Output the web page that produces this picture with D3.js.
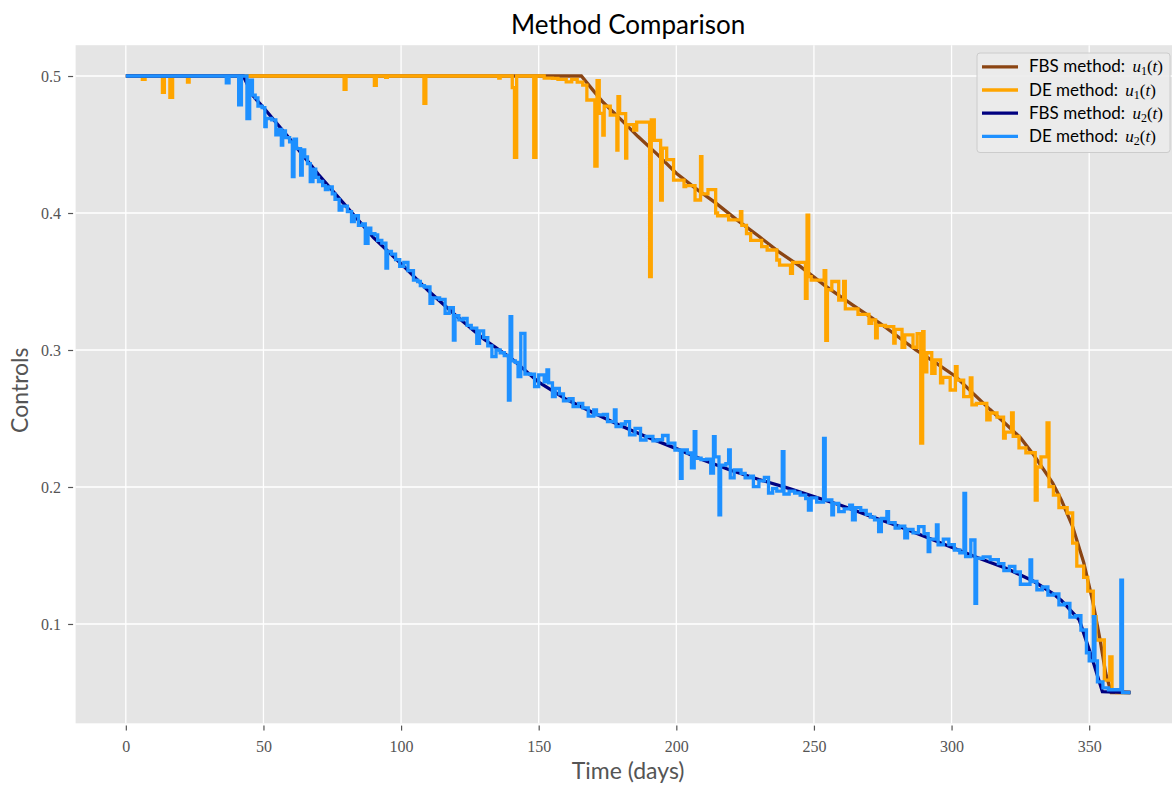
<!DOCTYPE html>
<html>
<head>
<meta charset="utf-8">
<script src="https://cdn.jsdelivr.net/npm/d3@7"></script>
<style>
  html, body { margin: 0; padding: 0; background: #ffffff; }
  svg { display: block; }
</style>
</head>
<body>
<svg id="chart" width="1172" height="786"></svg>
<script>
// Optimal controls u1(t), u2(t) over one year: forward-backward sweep (FBS)
// versus differential evolution (DE). Values are [day, control].

const fbsU1 = [
  [0, 0.5], [165.5, 0.5], [170, 0.489], [173.3, 0.481], [180, 0.468], [186, 0.456],
  [193, 0.443], [200, 0.429], [207, 0.418], [214.5, 0.407], [222, 0.395], [230, 0.383],
  [237, 0.372], [245, 0.361], [254, 0.347], [264, 0.333], [274, 0.3195], [287, 0.300],
  [294, 0.291], [301.6, 0.2805], [308, 0.268], [314, 0.2565], [320, 0.2455], [325, 0.236],
  [330, 0.223], [336.7, 0.203], [340, 0.19], [344, 0.171], [348, 0.145], [351.2, 0.1175],
  [354, 0.088], [356, 0.064], [358, 0.05], [365, 0.05]
];

const fbsU2 = [
  [0, 0.5], [42.7, 0.5], [46, 0.486], [50, 0.477], [60, 0.453], [70, 0.428], [80, 0.405],
  [90, 0.382], [100, 0.363], [110, 0.343], [120, 0.325], [130, 0.308], [140, 0.294],
  [150, 0.2765], [160, 0.264], [170, 0.254], [180, 0.2445], [190, 0.236], [200, 0.228],
  [210, 0.2195], [220, 0.212], [230, 0.2055], [240, 0.1995], [250, 0.193], [260, 0.1865],
  [270, 0.179], [280, 0.172], [290, 0.164], [300, 0.156], [310, 0.148], [320, 0.1405],
  [330, 0.131], [336.7, 0.1224], [340, 0.117], [346.4, 0.103], [351.2, 0.074],
  [354.8, 0.0506], [365, 0.05]
];

// DE controls are piecewise constant: each pair holds from its day to the next.
const deU1 = [
  [0, 0.5], [6, 0.4976], [7, 0.5], [13.3, 0.488], [14, 0.5], [16, 0.4845], [17, 0.5],
  [22.4, 0.4956], [23, 0.5], [79.3, 0.4903], [80, 0.5], [90.3, 0.4932], [91, 0.5],
  [94.4, 0.499], [95, 0.5], [108.3, 0.480], [109, 0.5], [135.5, 0.4985], [136, 0.5],
  [140.4, 0.4915], [141.2, 0.4407], [142, 0.5], [148.2, 0.4407], [149, 0.5],
  [152, 0.4985], [155, 0.4983], [157, 0.4975], [160, 0.4958], [162, 0.4975], [164, 0.4955],
  [166, 0.4934], [167.5, 0.4825], [170.4, 0.4343], [171.2, 0.4967], [172, 0.4728],
  [173.3, 0.4569], [173.8, 0.478], [176, 0.4715], [178.4, 0.446], [178.8, 0.4849],
  [179.4, 0.4725], [181.6, 0.440], [182, 0.4645], [184.5, 0.4606], [185.6, 0.4664],
  [190.3, 0.3535], [190.9, 0.4679], [192, 0.453], [194.3, 0.4095], [194.9, 0.4474],
  [196.5, 0.439], [199, 0.424], [202.8, 0.4192], [203.4, 0.420], [206.8, 0.4095],
  [208.8, 0.4411], [209.3, 0.414], [211.5, 0.417], [214.3, 0.400], [215, 0.398],
  [219, 0.395], [223.3, 0.401], [223.8, 0.391], [225.5, 0.385], [227, 0.380], [230, 0.380],
  [231, 0.3754], [233, 0.373], [236.5, 0.3657], [237.5, 0.362], [241.5, 0.356],
  [242.2, 0.364], [246.9, 0.3377], [247.5, 0.3985], [248.1, 0.3535], [249, 0.351],
  [253.7, 0.358], [254.3, 0.307], [254.9, 0.344], [256.5, 0.350], [259, 0.3365],
  [260.8, 0.350], [261.4, 0.330], [264, 0.330], [266, 0.326], [270, 0.3195], [271, 0.322],
  [272.4, 0.3088], [273, 0.318], [276, 0.317], [279, 0.305], [279.5, 0.315], [282, 0.302],
  [283, 0.311], [286, 0.302], [287.5, 0.312], [288.8, 0.232], [289.5, 0.3134], [290, 0.284],
  [291, 0.298], [292.8, 0.283], [294, 0.2927], [296, 0.276], [296.8, 0.280], [299.5, 0.2708],
  [301.4, 0.2878], [302, 0.278], [304.4, 0.266], [306.8, 0.2796], [307.4, 0.260],
  [309, 0.261], [312.8, 0.249], [314, 0.254], [316.5, 0.251], [318.9, 0.2357], [319.5, 0.240],
  [321.8, 0.254], [322.4, 0.237], [324.5, 0.2285], [327, 0.225], [330.4, 0.1905],
  [331.1, 0.2146], [332.5, 0.222], [334.7, 0.2467], [335.4, 0.2002], [337, 0.194],
  [339, 0.185], [342, 0.181], [344, 0.159], [345.5, 0.1423], [348, 0.134], [349.5, 0.124],
  [351.5, 0.1053], [352.5, 0.0883], [355.5, 0.059], [357.5, 0.076], [358.3, 0.052],
  [360, 0.05], [365, 0.05]
];

const deU2 = [
  [0, 0.5], [36.5, 0.495], [37.5, 0.5], [41, 0.479], [42, 0.5], [44, 0.469], [45, 0.497],
  [46, 0.486], [47, 0.484], [48, 0.478], [49.5, 0.477], [50.5, 0.463], [51, 0.469],
  [53, 0.468], [54.5, 0.457], [55.5, 0.461], [56.5, 0.4496], [57, 0.460], [58, 0.455],
  [59.5, 0.452], [60.5, 0.4265], [61.1, 0.454], [62, 0.447], [63.5, 0.4277], [64.1, 0.446],
  [65, 0.441], [66, 0.436], [67, 0.4229], [68, 0.432], [69, 0.426], [70, 0.423],
  [71.5, 0.420], [72.5, 0.417], [73.5, 0.419], [75, 0.414], [76, 0.410], [77.5, 0.4022],
  [78.5, 0.405], [80.5, 0.401], [82, 0.3937], [83, 0.398], [84.5, 0.391], [86, 0.392],
  [87, 0.3779], [88, 0.389], [89, 0.385], [90.5, 0.384], [91.5, 0.380], [93, 0.378],
  [94.5, 0.3598], [95.1, 0.372], [96.5, 0.370], [98, 0.366], [99.5, 0.361], [101, 0.364],
  [102.5, 0.358], [104.5, 0.351], [106, 0.350], [107, 0.347], [108.5, 0.346], [110.5, 0.334],
  [111.5, 0.338], [114, 0.337], [116, 0.3268], [117.5, 0.331], [119, 0.3073], [119.6, 0.325],
  [121, 0.322], [122.5, 0.323], [124, 0.318], [125.5, 0.316], [127.5, 0.3049], [128.5, 0.314],
  [130, 0.309], [131.5, 0.303], [133, 0.2951], [134.5, 0.300], [136, 0.298], [137.5, 0.296],
  [139, 0.2635], [139.6, 0.3243], [140.2, 0.292], [141.5, 0.291], [142.5, 0.2805],
  [143.5, 0.3122], [145, 0.2825], [147, 0.2823], [148.5, 0.2732], [150, 0.2818],
  [152, 0.2767], [153, 0.2854], [153.6, 0.276], [155, 0.2659], [156, 0.272], [157.5, 0.268],
  [159, 0.2628], [161, 0.2645], [162.5, 0.2586], [164.5, 0.261], [166, 0.2577], [168, 0.2518],
  [170, 0.2562], [171, 0.2526], [173.5, 0.253], [175, 0.2477], [177.5, 0.2562], [178.1, 0.244],
  [180, 0.246], [181.5, 0.2477], [183, 0.238], [185, 0.2428], [187, 0.2343], [189, 0.237],
  [191.5, 0.2336], [193, 0.2345], [195, 0.2376], [197, 0.232], [199.5, 0.227], [201.5, 0.2063],
  [202.1, 0.227], [204, 0.2248], [205.5, 0.2139], [206.5, 0.2404], [207.1, 0.221], [209, 0.220],
  [211, 0.2204], [212.5, 0.2102], [213.5, 0.2367], [214.1, 0.222], [215.5, 0.1796], [216.1, 0.216],
  [218, 0.217], [219, 0.227], [219.6, 0.2066], [221, 0.2124], [223.5, 0.210], [225, 0.2066],
  [227, 0.208], [228, 0.2002], [230, 0.2045], [232, 0.207], [233.5, 0.1956], [235, 0.199],
  [236.5, 0.197], [238.5, 0.2258], [239.1, 0.1949], [241, 0.197], [243, 0.1956], [245, 0.194],
  [247, 0.1915], [248, 0.1832], [249, 0.192], [251, 0.189], [253.5, 0.2355], [254.1, 0.1905],
  [256.5, 0.1796], [257.1, 0.188], [259, 0.182], [261, 0.184], [263, 0.1867], [264, 0.176],
  [265, 0.185], [267, 0.183], [269, 0.180], [270.5, 0.178], [272, 0.176], [273.5, 0.1674],
  [274.5, 0.177], [276.5, 0.182], [277.1, 0.174], [279.5, 0.170], [281, 0.1715], [283, 0.1628],
  [284, 0.169], [286, 0.1665], [288, 0.171], [290, 0.166], [291.5, 0.1528], [292.1, 0.162],
  [294.5, 0.1723], [295.1, 0.1577], [297, 0.162], [299, 0.158], [301, 0.154], [303, 0.152],
  [304.5, 0.1954], [305.1, 0.1491], [307, 0.1613], [308.5, 0.1151], [309.1, 0.148],
  [311.5, 0.149], [314, 0.147], [317, 0.144], [319, 0.139], [321, 0.142], [323, 0.138],
  [325, 0.129], [328.5, 0.1467], [329.1, 0.131], [331, 0.125], [333, 0.127], [335, 0.121],
  [337, 0.122], [339, 0.114], [341, 0.115], [343, 0.105], [345, 0.106], [347, 0.0956],
  [349, 0.079], [350, 0.073], [351.5, 0.1053], [352.1, 0.073], [353, 0.0577], [355, 0.0533],
  [357, 0.052], [361.5, 0.132], [362.1, 0.05], [365, 0.05]
];

const xTickValues = [0, 50, 100, 150, 200, 250, 300, 350];
const yTickValues = [0.1, 0.2, 0.3, 0.4, 0.5];

const seriesInfo = [
  { data: fbsU1, method: "FBS", sub: "1", color: "#8B4513", width: 3.3, step: false },
  { data: deU1,  method: "DE",  sub: "1", color: "#FFA500", width: 3.3, step: true },
  { data: fbsU2, method: "FBS", sub: "2", color: "#000080", width: 3.3, step: false },
  { data: deU2,  method: "DE",  sub: "2", color: "#1E90FF", width: 3.3, step: true }
];

const W = 1172, H = 786;
const plot = { left: 75.6, right: 1180.7, top: 45.2, bottom: 723.3 };

const svg = d3.select("#chart");
svg.append("rect").attr("width", W).attr("height", H).attr("fill", "#ffffff");

// matplotlib-style 5% margins around the data range
const x = d3.scaleLinear().domain([-18.25, 383.25]).range([plot.left, plot.right]);
const y = d3.scaleLinear().domain([0.0275, 0.5225]).range([plot.bottom, plot.top]);

svg.append("defs").append("clipPath").attr("id", "plot-clip")
  .append("rect")
  .attr("x", plot.left).attr("y", plot.top)
  .attr("width", plot.right - plot.left).attr("height", plot.bottom - plot.top);

svg.append("rect")
  .attr("x", plot.left).attr("y", plot.top)
  .attr("width", plot.right - plot.left).attr("height", plot.bottom - plot.top)
  .attr("fill", "#E5E5E5");

// grid
const grid = svg.append("g").attr("stroke", "#ffffff").attr("stroke-width", 1.3);
grid.selectAll("line.gx").data(xTickValues).join("line")
  .attr("x1", d => x(d)).attr("x2", d => x(d))
  .attr("y1", plot.top).attr("y2", plot.bottom);
grid.selectAll("line.gy").data(yTickValues).join("line")
  .attr("x1", plot.left).attr("x2", plot.right)
  .attr("y1", d => y(d)).attr("y2", d => y(d));

// axes
const tickFont = "'Liberation Serif', 'Times New Roman', serif";
const xAxis = d3.axisBottom(x).tickValues(xTickValues).tickSize(5).tickPadding(10)
  .tickFormat(d3.format("d"));
const yAxis = d3.axisLeft(y).tickValues(yTickValues).tickSize(5).tickPadding(7)
  .tickFormat(d3.format(".1f"));

const gx = svg.append("g").attr("transform", `translate(0,${plot.bottom + 2.3})`).call(xAxis);
const gy = svg.append("g").attr("transform", `translate(${plot.left - 2.5},0)`).call(yAxis);
[gx, gy].forEach(g => {
  g.select(".domain").remove();
  g.selectAll(".tick line").attr("stroke", "#555555").attr("stroke-width", 1.2);
  g.selectAll(".tick text")
    .attr("fill", "#555555")
    .style("font-family", tickFont)
    .style("font-size", "16px");
});

// data lines
const lines = svg.append("g").attr("clip-path", "url(#plot-clip)");
seriesInfo.forEach(s => {
  const gen = d3.line()
    .x(d => x(d[0]))
    .y(d => y(d[1]))
    .curve(s.step ? d3.curveStepAfter : d3.curveLinear);
  lines.append("path")
    .datum(s.data)
    .attr("fill", "none")
    .attr("stroke", s.color)
    .attr("stroke-width", s.width)
    .attr("stroke-linejoin", "miter")
    .attr("stroke-linecap", "butt")
    .attr("d", gen);
});

// titles
const sansFont = "Lato, 'Open Sans', sans-serif";
svg.append("text")
  .attr("x", (plot.left + plot.right) / 2).attr("y", 34)
  .attr("text-anchor", "middle")
  .style("font-family", sansFont).style("font-size", "26px").attr("fill", "#000000")
  .text("Method Comparison");

svg.append("text")
  .attr("x", (plot.left + plot.right) / 2).attr("y", 779)
  .attr("text-anchor", "middle")
  .style("font-family", sansFont).style("font-size", "23px").attr("fill", "#555555")
  .text("Time (days)");

svg.append("text")
  .attr("transform", `translate(28,${(plot.top + plot.bottom) / 2 + 6}) rotate(-90)`)
  .attr("text-anchor", "middle")
  .style("font-family", sansFont).style("font-size", "23px").attr("fill", "#555555")
  .text("Controls");

// legend
const legend = svg.append("g");
legend.append("rect")
  .attr("x", 977).attr("y", 53).attr("width", 193).attr("height", 99.5)
  .attr("rx", 3).attr("ry", 3)
  .attr("fill", "#EBEBEB").attr("fill-opacity", 0.9)
  .attr("stroke", "#CCCCCC").attr("stroke-width", 1);

seriesInfo.forEach((s, i) => {
  const cy = 66.8 + i * 23.2;
  legend.append("line")
    .attr("x1", 982).attr("x2", 1018).attr("y1", cy).attr("y2", cy)
    .attr("stroke", s.color).attr("stroke-width", s.width);
  const t = legend.append("text")
    .attr("x", 1029).attr("y", cy + 5.5)
    .attr("fill", "#000000")
    .style("font-family", sansFont).style("font-size", "17px");
  t.append("tspan").text(`${s.method} method: `);
  t.append("tspan").style("font-family", tickFont).style("font-style", "italic")
    .style("font-size", "17px").attr("dx", 3).text("u");
  t.append("tspan").style("font-family", tickFont).style("font-size", "12px")
    .attr("dy", 3).text(s.sub);
  t.append("tspan").style("font-family", tickFont).style("font-size", "17px")
    .attr("dy", -3).text("(");
  t.append("tspan").style("font-family", tickFont).style("font-style", "italic")
    .style("font-size", "17px").text("t");
  t.append("tspan").style("font-family", tickFont).style("font-size", "17px").text(")");
});
</script>
</body>
</html>
